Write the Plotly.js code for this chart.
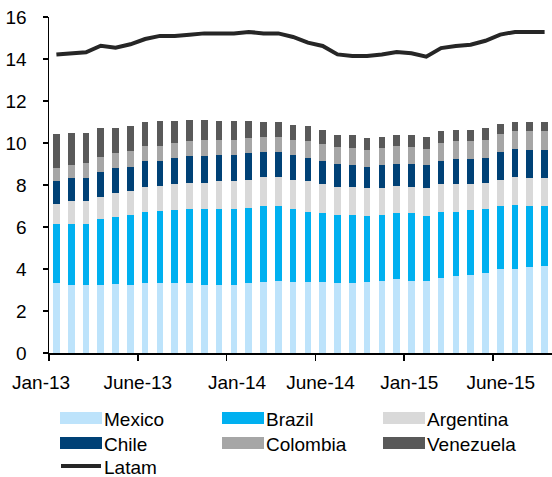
<!DOCTYPE html>
<html>
<head>
<meta charset="utf-8">
<script src="https://cdn.plot.ly/plotly-3.0.1.min.js"></script>
<style>
html,body{margin:0;padding:0;background:#fff;}
#chart{width:552px;height:477px;}
</style>
</head>
<body>
<div id="chart"></div>
<script>
// ---- data ----
const months = ["Jan-13","Feb-13","Mar-13","Apr-13","May-13","Jun-13","Jul-13","Aug-13","Sep-13","Oct-13","Nov-13","Dec-13",
                "Jan-14","Feb-14","Mar-14","Apr-14","May-14","Jun-14","Jul-14","Aug-14","Sep-14","Oct-14","Nov-14","Dec-14",
                "Jan-15","Feb-15","Mar-15","Apr-15","May-15","Jun-15","Jul-15","Aug-15","Sep-15","Oct-15"];
const mexico    = [3.32,3.24,3.24,3.24,3.29,3.24,3.32,3.32,3.32,3.32,3.24,3.24,3.24,3.32,3.38,3.44,3.38,3.38,3.38,3.32,3.32,3.38,3.44,3.51,3.44,3.44,3.59,3.67,3.73,3.81,4.00,4.00,4.08,4.14];
const brazil    = [2.82,2.90,2.90,3.13,3.20,3.33,3.39,3.46,3.48,3.54,3.62,3.62,3.62,3.60,3.62,3.56,3.48,3.33,3.27,3.25,3.25,3.13,3.13,3.14,3.21,3.07,3.12,3.04,3.06,3.05,3.00,3.06,2.92,2.86];
const argentina = [0.94,1.08,1.08,1.04,1.14,1.13,1.19,1.19,1.25,1.25,1.25,1.33,1.33,1.33,1.40,1.40,1.39,1.48,1.40,1.33,1.33,1.33,1.27,1.32,1.25,1.33,1.34,1.34,1.26,1.25,1.25,1.34,1.32,1.32];
const chile     = [1.13,1.10,1.10,1.19,1.18,1.17,1.24,1.17,1.24,1.27,1.27,1.24,1.24,1.26,1.17,1.17,1.18,1.10,1.11,1.12,1.05,1.03,1.11,1.05,1.12,1.11,1.11,1.19,1.19,1.19,1.32,1.31,1.33,1.33];
const colombia  = [0.62,0.63,0.73,0.72,0.71,0.73,0.73,0.73,0.73,0.72,0.76,0.71,0.71,0.71,0.72,0.72,0.71,0.79,0.79,0.79,0.80,0.80,0.80,0.85,0.79,0.78,0.86,0.86,0.86,0.86,0.86,0.86,0.92,0.92];
const venezuela = [1.60,1.54,1.44,1.38,1.18,1.19,1.11,1.18,1.03,1.01,0.97,0.91,0.91,0.83,0.69,0.69,0.70,0.71,0.68,0.56,0.62,0.55,0.54,0.50,0.56,0.56,0.55,0.53,0.53,0.54,0.47,0.41,0.41,0.41];
const latam     = [14.21,14.27,14.32,14.63,14.54,14.70,14.95,15.10,15.10,15.16,15.22,15.22,15.22,15.29,15.22,15.22,15.05,14.78,14.62,14.22,14.14,14.14,14.21,14.33,14.27,14.11,14.52,14.62,14.68,14.87,15.16,15.29,15.29,15.29];
const tickLabels = ["Jan-13","June-13","Jan-14","June-14","Jan-15","June-15"];
const tickMonthIdx = [0,6,12,18,24,30];

// ---- styling ----
const FONT = '"Liberation Sans", Arial, sans-serif';
const seriesDefs = [
  {name:"Mexico",    y:mexico,    color:"#BDE3FB"},
  {name:"Brazil",    y:brazil,    color:"#00B0F0"},
  {name:"Argentina", y:argentina, color:"#D9D9D9"},
  {name:"Chile",     y:chile,     color:"#004176"},
  {name:"Colombia",  y:colombia,  color:"#A6A6A6"},
  {name:"Venezuela", y:venezuela, color:"#595959"}
];
const latamColor = "#262626";

const xs = months.map((m,i)=>i);
const traces = seriesDefs.map(s=>({
  type:"bar", name:s.name, x:xs, y:s.y, customdata:months,
  marker:{color:s.color, line:{width:0}},
  hovertemplate:"%{customdata}: %{y}<extra>"+s.name+"</extra>",
  showlegend:false
}));
traces.push({
  type:"scatter", mode:"lines", name:"Latam", x:xs, y:latam, customdata:months,
  line:{color:latamColor, width:4, shape:"linear"},
  hovertemplate:"%{customdata}: %{y}<extra>Latam</extra>",
  showlegend:false
});

// tick label horizontal nudges (non-breaking spaces) to mimic the original placement
const nb = "\u00A0";
const pad = [[0,3],[0,0],[4,0],[2,0],[2,0],[3,0]];
const tickText = tickLabels.map((t,i)=>nb.repeat(pad[i][0])+t+nb.repeat(pad[i][1]));
const tickVals = tickMonthIdx.map(i=>i-0.5);

// ---- manual legend ----
const W=552, H=477, L=49, T=17, R=0, B=124;
const pxX = x => (x-L)/(W-L-R);
const pxY = y => (H-B-y)/(H-T-B);
const colX = [60,222,383];
const rowY = [418,443,466];
const legendItems = seriesDefs.map((s,i)=>({name:s.name,color:s.color,kind:"bar",col:i%3,row:Math.floor(i/3)}));
legendItems.push({name:"Latam",color:latamColor,kind:"line",col:0,row:2});

const shapes=[], annotations=[];
legendItems.forEach(it=>{
  const x0=colX[it.col], yc=rowY[it.row];
  if(it.kind==="bar"){
    shapes.push({type:"rect",xref:"paper",yref:"paper",x0:pxX(x0),x1:pxX(x0+42),y0:pxY(yc+6),y1:pxY(yc-6),
      fillcolor:it.color,line:{width:0},layer:"above"});
  } else {
    shapes.push({type:"line",xref:"paper",yref:"paper",x0:pxX(x0+1),x1:pxX(x0+41),y0:pxY(yc),y1:pxY(yc),
      line:{color:it.color,width:4},layer:"above"});
  }
  annotations.push({xref:"paper",yref:"paper",x:pxX(x0+43),y:pxY(yc+1),xanchor:"left",yanchor:"middle",
    text:it.name,showarrow:false,borderpad:0,font:{family:FONT,size:19,color:"#000"}});
});

const layout = {
  width:W, height:H,
  margin:{l:L,r:R,t:T,b:B,pad:0},
  paper_bgcolor:"#fff", plot_bgcolor:"#fff",
  barmode:"stack", bargap:0.55,
  font:{family:FONT,size:19,color:"#000"},
  showlegend:false,
  xaxis:{
    type:"linear", range:[-0.5,33.5], fixedrange:true,
    tickmode:"array", tickvals:tickVals, ticktext:tickText, tickangle:0,
    ticks:"outside", ticklen:6, tickwidth:1.5, tickcolor:"#000",
    showline:true, linecolor:"#000", linewidth:1.5,
    showgrid:false, zeroline:false, ticklabelstandoff:6,
    tickfont:{family:FONT,size:19,color:"#000"}
  },
  yaxis:{
    range:[0,16], fixedrange:true, tickmode:"linear", tick0:0, dtick:2,
    ticks:"outside", ticklen:5, tickwidth:1.5, tickcolor:"#000",
    showline:true, linecolor:"#000", linewidth:1.5,
    showgrid:false, zeroline:false, ticklabelstandoff:12,
    tickfont:{family:FONT,size:19,color:"#000"}
  },
  shapes:shapes,
  annotations:annotations
};

Plotly.newPlot("chart", traces, layout, {displayModeBar:false, staticPlot:true});
</script>
</body>
</html>
